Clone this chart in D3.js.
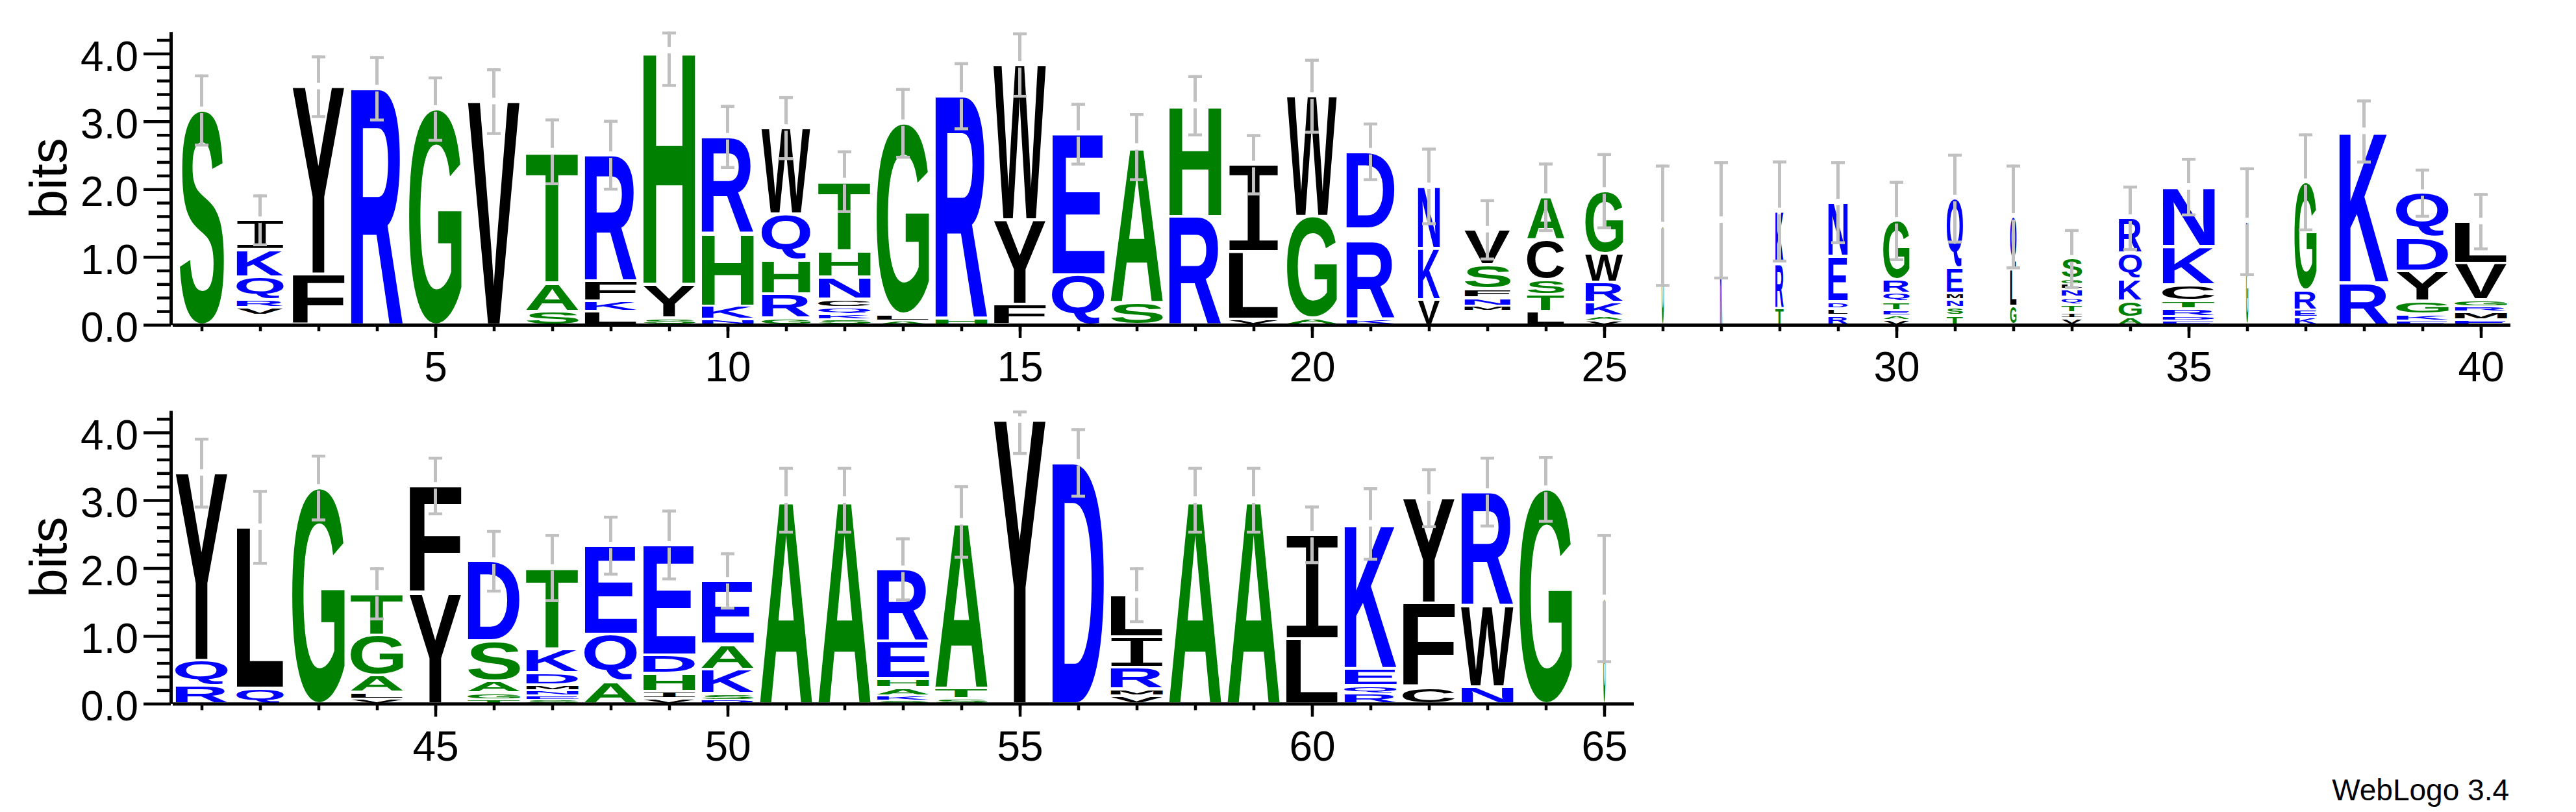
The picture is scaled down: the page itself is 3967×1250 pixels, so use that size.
<!DOCTYPE html>
<html>
<head>
<meta charset="utf-8">
<style>
body { margin: 0; background: #fff; }
</style>
</head>
<body>

<script src="https://cdn.jsdelivr.net/npm/d3@7"></script>
<script>

const positions = [
  1, 2, 3, 4, 5, 6, 7, 8, 9, 10, 11, 12, 13, 14, 15, 16, 17, 18, 19, 20,
  21, 22, 23, 24, 25, 26, 27, 28, 29, 30, 31, 32, 33, 34, 35, 36, 37, 38, 39, 40,
  41, 42, 43, 44, 45, 46, 47, 48, 49, 50, 51, 52, 53, 54, 55, 56, 57, 58, 59, 60,
  61, 62, 63, 64, 65
];

// letter stacks, bottom to top, [residue, bits]; '-' is an empty slot (drawn blank)
const stacks = [
  [['S', 3.17]],
  [['-', .14], ['V', .12], ['R', .11], ['Q', .34], ['K', .4], ['I', .44]],
  [['F', .75], ['Y', 2.77]],
  [['R', 3.49]],
  [['G', 3.19]],
  [['V', 3.30]],
  [['S', .2], ['A', .42], ['T', 1.94]],
  [['L', .2], ['K', .15], ['F', .3], ['R', 1.86]],
  [['S', .1], ['Y', .5], ['H', 3.45]],
  [['N', .08], ['K', .2], ['H', 1.08], ['R', 1.42]],
  [['G', .1], ['R', .36], ['H', .5], ['Q', .68], ['W', 1.27]],
  [['S', .08], ['K', .08], ['Q', .1], ['C', .12], ['N', .33], ['H', .38], ['T', 1.03]],
  [['A', .06], ['L', .1], ['G', 2.82]],
  [['H', .1], ['R', 3.28]],
  [['F', .3], ['Y', 1.25], ['W', 2.29]],
  [['Q', .74], ['E', 2.08]],
  [['S', .33], ['A', 2.3]],
  [['R', 1.6], ['H', 1.64]],
  [['V', .08], ['L', 1.0], ['I', 1.29]],
  [['A', .1], ['G', 1.5], ['W', 1.78]],
  [['K', .08], ['R', 1.14], ['-', .2], ['D', 1.14]],
  [['V', .37], ['K', .76], ['N', .92]],
  [['-', .2], ['M', .08], ['N', .12], ['F', .13], ['S', .36], ['V', .52]],
  [['L', .2], ['T', .25], ['S', .22], ['C', .58], ['A', .64]],
  [['V', .06], ['A', .07], ['K', .2], ['R', .3], ['W', .42], ['G', .93]],
  [['G', 1.47]],
  [['K', 1.55]],
  [['T', .25], ['R', .66], ['K', .77]],
  [['R', .14], ['L', .1], ['D', .1], ['E', .67], ['N', .8]],
  [['V', .07], ['A', .07], ['E', .07], ['T', .13], ['Q', .13], ['R', .2], ['G', .87]],
  [['T', .14], ['S', .12], ['N', .11], ['M', .1], ['E', .37], ['Q', 1.03]],
  [['G', .28], ['L', .54], ['Q', .78]],
  [['V', .1], ['I', .08], ['T', .12], ['Q', .11], ['N', .12], ['L', .07], ['G', .08], ['S', .3]],
  [['A', .11], ['G', .24], ['K', .33], ['Q', .38], ['R', .52]],
  [['E', .06], ['D', .06], ['R', .12], ['T', .12], ['C', .23], ['K', .57], ['N', .88]],
  [['G', 1.0], ['N', .53]],
  [['K', .11], ['E', .11], ['R', .29], ['G', 1.6]],
  [['R', .62], ['K', 2.24]],
  [['E', .06], ['K', .1], ['G', .19], ['Y', .44], ['D', .5], ['Q', .66]],
  [['E', .07], ['M', .12], ['R', .08], ['G', .1], ['V', .54], ['L', .62]],
  [['R', .27], ['Q', .37], ['Y', 2.77]],
  [['Q', .23], ['L', 2.38]],
  [['G', 3.19]],
  [['V', .07], ['L', .1], ['A', .25], ['G', .6], ['T', .61]],
  [['Y', 1.63], ['F', 1.59]],
  [['T', .06], ['G', .1], ['A', .18], ['S', .59], ['D', 1.18]],
  [['S', .06], ['E', .06], ['N', .08], ['M', .08], ['D', .18], ['K', .35], ['T', 1.2]],
  [['A', .33], ['Q', .7], ['E', 1.31]],
  [['V', .08], ['I', .1], ['H', .27], ['D', .27], ['E', 1.63]],
  [['D', .05], ['S', .1], ['K', .36], ['A', .37], ['E', .94]],
  [['A', 3.01]],
  [['A', 3.01]],
  [['S', .05], ['K', .07], ['A', .12], ['H', .13], ['E', .56], ['R', 1.06]],
  [['S', .08], ['T', .15], ['A', 2.46]],
  [['Y', 4.19]],
  [['D', 3.56]],
  [['V', .12], ['M', .1], ['R', .32], ['I', .45], ['L', .62]],
  [['A', 3.01]],
  [['A', 3.01]],
  [['L', .96], ['I', 1.54]],
  [['R', .15], ['Q', .12], ['E', .25], ['K', 2.14]],
  [['C', .24], ['F', 1.25], ['Y', 1.55]],
  [['N', .25], ['W', 1.2], ['R', 1.68]],
  [['G', 3.17]],
  [['G', 1.56]]
];

// error bar half lengths (bits)
const errors = [
  .52, .37, .45, .47, .47, .48, .48, .51, .52, .46,
  .46, .45, .51, .49, .47, .45, .49, .44, .44, .54,
  .42, .56, .44, .5, .55, .89, .86, .74, .6, .58,
  .65, .76, .43, .47, .42, .79, .71, .46, .35, .41,
  .51, .54, .48, .38, .42, .45, .49, .43, .51, .41,
  .48, .48, .46, .53, .5, .5, .4, .48, .48, .42,
  .53, .43, .51, .48, .94
];

// stack width as a fraction of a full column (gapped columns are narrow)
const widths = [
  .85, .9, 1, 1, 1, 1, 1, 1, 1, 1,
  .93, 1, 1, 1, 1, 1, 1, 1, .95, .95,
  .93, .42, .88, .71, .72, .04, .04, .16, .37, .5,
  .31, .12, .39, .44, 1, .04, .42, .95, 1, 1,
  1, .9, 1, 1, 1, 1, 1, 1, 1, 1,
  1, 1, 1, 1, 1, 1, 1, 1, 1, 1,
  1, 1, 1, 1, .04
];

const yTicks = [0, 1, 2, 3, 4];
const yMinorTicks = [.2, .4, .6, .8, 1.2, 1.4, 1.6, 1.8, 2.2, 2.4, 2.6, 2.8, 3.2, 3.4, 3.6, 3.8, 4.2];
const xLabelTicks = [5, 10, 15, 20, 25, 30, 35, 40, 45, 50, 55, 60, 65];
const yTitle = 'bits';
const footer = 'WebLogo 3.4';

const width = 3967;
const height = 1250;
const maxBits = Math.log2(20);
const bitPx = 104.4;
const colW = 90;
const letterW = 81;
const axisX = 263;

const rows = [
  {first: 1, last: 40, zero: 500},
  {first: 41, last: 65, zero: 1083.3}
];

const colour = l => 'RKDENQ'.includes(l) ? '#0000ff'
                  : 'SGHTAP'.includes(l) ? '#008000' : '#000000';
const glyphFont = l => l === 'I' ? ['DejaVu Sans Mono', 'normal'] : ['Liberation Sans', 'bold'];

// ink boxes of the glyphs, so each letter can be stretched to fill its box
const ctx = document.createElement('canvas').getContext('2d');
const ink = {};
'ACDEFGHIKLMNPQRSTVWY'.split('').forEach(l => {
  const [fam, wt] = glyphFont(l);
  ctx.font = `${wt} 100px '${fam}'`;
  const m = ctx.measureText(l);
  ink[l] = {
    l: m.actualBoundingBoxLeft, r: m.actualBoundingBoxRight,
    a: m.actualBoundingBoxAscent, d: m.actualBoundingBoxDescent
  };
});

const svg = d3.select('body')
              .append('svg')
              .attr('width', width)
              .attr('height', height);

svg.append('rect').attr('width', width).attr('height', height).attr('fill', '#fff');

rows.forEach(row => {
  const cols = positions.filter(p => p >= row.first && p <= row.last);
  const left = axisX + 2.5;

  const x = d3.scaleLinear()
              .domain([row.first - 0.5, row.last + 0.5])
              .range([left, left + cols.length * colW]);
  const y = d3.scaleLinear()
              .domain([0, maxBits])
              .range([row.zero, row.zero - maxBits * bitPx]);

  const g = svg.append('g');

  // letters
  const letters = [];
  cols.forEach(p => {
    let base = 0;
    stacks[p - 1].forEach(([l, b]) => {
      letters.push({p, l, b0: base, b1: base + b});
      base += b;
    });
  });

  g.selectAll('text.letter')
   .data(letters.filter(d => d.l !== '-'))
   .join('text')
   .attr('class', 'letter')
   .attr('font-family', d => glyphFont(d.l)[0])
   .attr('font-weight', d => glyphFont(d.l)[1])
   .attr('font-size', 100)
   .attr('fill', d => colour(d.l))
   .attr('transform', d => {
     const w = letterW * widths[d.p - 1];
     const top = y(d.b1);
     const bot = y(d.b0);
     const pad = Math.min(2.2, (bot - top) * 0.2);
     const h = bot - top - 2 * pad;
     const m = ink[d.l];
     return `translate(${x(d.p) - w / 2},${top + pad}) ` +
            `scale(${w / (m.l + m.r)},${h / (m.a + m.d)}) translate(${m.l},${m.a})`;
   })
   .text(d => d.l);

  // error bars
  const bars = cols.map(p => {
    const top = d3.sum(stacks[p - 1], d => d[1]);
    return {p, top, hi: Math.min(top + errors[p - 1], maxBits), lo: top - errors[p - 1]};
  });

  const eb = g.append('g').attr('stroke', '#c0c0c0');
  eb.selectAll('line.up').data(bars).join('line').attr('class', 'up')
    .attr('x1', d => x(d.p)).attr('x2', d => x(d.p))
    .attr('y1', d => y(d.top) - 5).attr('y2', d => y(d.hi))
    .attr('stroke-width', 5);
  eb.selectAll('line.down').data(bars).join('line').attr('class', 'down')
    .attr('x1', d => x(d.p)).attr('x2', d => x(d.p))
    .attr('y1', d => y(d.top) + 5).attr('y2', d => y(d.lo))
    .attr('stroke-width', 5);
  eb.selectAll('line.capHi').data(bars).join('line').attr('class', 'capHi')
    .attr('x1', d => x(d.p) - 10.5).attr('x2', d => x(d.p) + 10.5)
    .attr('y1', d => y(d.hi) + 2).attr('y2', d => y(d.hi) + 2)
    .attr('stroke-width', 4.5);
  eb.selectAll('line.capLo').data(bars).join('line').attr('class', 'capLo')
    .attr('x1', d => x(d.p) - 10.5).attr('x2', d => x(d.p) + 10.5)
    .attr('y1', d => y(d.lo)).attr('y2', d => y(d.lo))
    .attr('stroke-width', 4.5);

  // y axis
  const yMinor = g.append('g').attr('transform', `translate(${axisX},0)`)
    .call(d3.axisLeft(y).tickValues(yMinorTicks).tickSize(21).tickSizeOuter(0).tickFormat(''));
  yMinor.select('.domain').remove();

  const yAxis = g.append('g').attr('transform', `translate(${axisX},0)`)
    .call(d3.axisLeft(y).tickValues(yTicks).tickSize(42).tickSizeOuter(0)
            .tickPadding(8).tickFormat(d3.format('.1f')));
  yAxis.selectAll('text').attr('dy', '0.4em');

  // x axis
  const xMinor = g.append('g').attr('transform', `translate(0,${row.zero})`)
    .call(d3.axisBottom(x).tickValues(cols).tickSize(10).tickSizeOuter(0).tickFormat(''));

  g.append('g').attr('transform', `translate(0,${row.zero})`)
    .call(d3.axisBottom(x).tickValues(xLabelTicks.filter(t => t >= row.first && t <= row.last))
            .tickSize(20).tickPadding(22).tickFormat(d3.format('d')))
    .select('.domain').remove();

  [yMinor, yAxis, xMinor].forEach(a => a.select('.domain').attr('stroke-width', 5));
  g.selectAll('.tick line').attr('stroke-width', 4.5);
  g.selectAll('.tick text')
   .attr('font-family', 'Liberation Sans')
   .attr('font-size', 64)
   .attr('fill', '#000');

  g.append('text')
   .attr('transform', `translate(102,${(y(0) + y(maxBits)) / 2}) rotate(-90)`)
   .attr('text-anchor', 'middle')
   .attr('font-family', 'Liberation Sans')
   .attr('font-size', 80)
   .text(yTitle);
});

svg.append('text')
   .attr('x', 3864)
   .attr('y', 1232)
   .attr('text-anchor', 'end')
   .attr('font-family', 'Liberation Sans')
   .attr('font-size', 46)
   .text(footer);

</script>
</body>
</html>
